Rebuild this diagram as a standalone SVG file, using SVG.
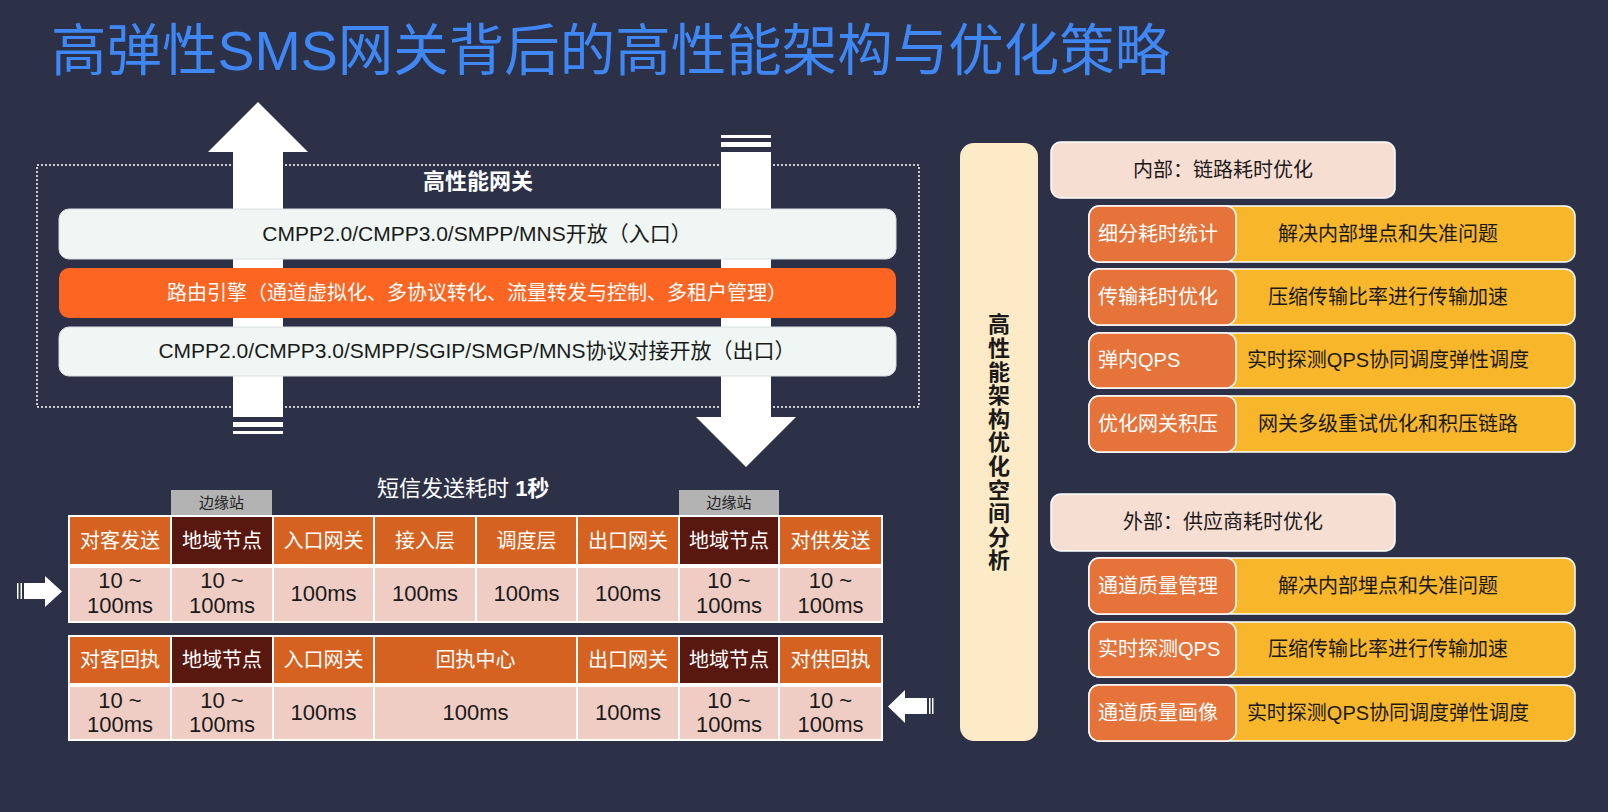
<svg xmlns="http://www.w3.org/2000/svg" width="1608" height="812" viewBox="0 0 1608 812">
<style>
text{font-family:"Liberation Sans","Noto Sans CJK SC",sans-serif;}
.bar{stroke:#d9dde0;stroke-width:1}
.barT{font-size:21px;fill:#1a1a1a;text-anchor:middle}
.hd{stroke:#fff;stroke-width:2}
.hT{font-size:20px;fill:#fff;text-anchor:middle}
.dc{fill:#efcdc4;stroke:#fff;stroke-width:2}
.dT{font-size:22px;fill:#1a1a1a;text-anchor:middle}
.edge{fill:#b3b3b3}
.edgeT{font-size:15px;fill:#222;text-anchor:middle}
.yel{fill:#f8b62b;stroke:#fff;stroke-width:1.5}
.org{fill:#e5733a;stroke:#fff;stroke-width:1.5}
.lT{font-size:20px;fill:#fff}
.rT{font-size:20px;fill:#1a1a1a;text-anchor:middle}
.sec{fill:#f7ded2;stroke:#fff;stroke-width:1.5}
.secT{font-size:20px;fill:#1a1a1a;text-anchor:middle}
.wa{fill:#fff}
</style>
<rect width="1608" height="812" fill="#2c3147"/>
<text x="51" y="70" font-size="55.5" fill="#3e87f5">高弹性SMS网关背后的高性能架构与优化策略</text>

<g id="connectors">
  <polygon class="wa" points="258,102 308,152 283,152 283,417 233,417 233,152 208,152"/>
  <rect class="wa" x="233" y="422" width="50" height="5"/>
  <rect class="wa" x="233" y="431" width="50" height="3"/>
  <rect class="wa" x="721" y="135" width="50" height="3"/>
  <rect class="wa" x="721" y="142" width="50" height="5"/>
  <polygon class="wa" points="721,152 771,152 771,417 796,417 746,467 696,417 721,417"/>
  <polygon class="wa" points="24,583 45,583 45,576 62,591.5 45,607 45,599 24,599"/>
  <rect class="wa" x="17" y="583" width="1.5" height="16"/>
  <rect class="wa" x="20.5" y="583" width="1.5" height="16"/>
  <polygon class="wa" points="888,706.5 905,690 905,698 927,698 927,714 905,714 905,723"/>
  <rect class="wa" x="929" y="698" width="1.5" height="16"/>
  <rect class="wa" x="932" y="698" width="1.5" height="16"/>
</g>

<g id="gateway">
  <rect x="37" y="165" width="882" height="242" fill="none" stroke="#fff" stroke-width="1.5" stroke-dasharray="2 2"/>
  <text x="478" y="189" font-size="22" font-weight="bold" fill="#fff" text-anchor="middle">高性能网关</text>
</g>
<g id="bar-in">
  <rect class="bar" x="59" y="209" width="837" height="50" rx="10" fill="#eff6f3"/>
  <text class="barT" x="477" y="241">CMPP2.0/CMPP3.0/SMPP/MNS开放（入口）</text>
</g>
<g id="bar-route">
  <rect x="59" y="268" width="837" height="50" rx="10" fill="#fc6522"/>
  <text class="barT" x="477" y="300" style="fill:#fff;font-size:20px">路由引擎（通道虚拟化、多协议转化、流量转发与控制、多租户管理）</text>
</g>
<g id="bar-out">
  <rect class="bar" x="59" y="327" width="837" height="49" rx="10" fill="#eff6f3"/>
  <text class="barT" x="477" y="358">CMPP2.0/CMPP3.0/SMPP/SGIP/SMGP/MNS协议对接开放（出口）</text>
</g>

<g id="table-title">
  <text x="377" y="496" font-size="22" fill="#fff">短信发送耗时 <tspan font-weight="bold">1秒</tspan></text>
</g>

<g id="edge1"><rect class="edge" x="171" y="490" width="101" height="25"/><text class="edgeT" x="221.5" y="508">边缘站</text></g>
<g id="edge2"><rect class="edge" x="679" y="490" width="100" height="25"/><text class="edgeT" x="729" y="508">边缘站</text></g>

<g id="table-send">
  <rect class="hd" x="69" y="516" width="102" height="49" fill="#d66221"/>
  <rect class="hd" x="171" y="516" width="102" height="49" fill="#58180f"/>
  <rect class="hd" x="273" y="516" width="101" height="49" fill="#d66221"/>
  <rect class="hd" x="374" y="516" width="102" height="49" fill="#d66221"/>
  <rect class="hd" x="476" y="516" width="101" height="49" fill="#d66221"/>
  <rect class="hd" x="577" y="516" width="102" height="49" fill="#d66221"/>
  <rect class="hd" x="679" y="516" width="100" height="49" fill="#58180f"/>
  <rect class="hd" x="779" y="516" width="103" height="49" fill="#d66221"/>
  <text class="hT" x="120" y="548">对客发送</text>
  <text class="hT" x="222" y="548">地域节点</text>
  <text class="hT" x="323.5" y="548">入口网关</text>
  <text class="hT" x="425" y="548">接入层</text>
  <text class="hT" x="526.5" y="548">调度层</text>
  <text class="hT" x="628" y="548">出口网关</text>
  <text class="hT" x="729" y="548">地域节点</text>
  <text class="hT" x="830.5" y="548">对供发送</text>
  <rect class="dc" x="69" y="567" width="102" height="55"/>
  <rect class="dc" x="171" y="567" width="102" height="55"/>
  <rect class="dc" x="273" y="567" width="101" height="55"/>
  <rect class="dc" x="374" y="567" width="102" height="55"/>
  <rect class="dc" x="476" y="567" width="101" height="55"/>
  <rect class="dc" x="577" y="567" width="102" height="55"/>
  <rect class="dc" x="679" y="567" width="100" height="55"/>
  <rect class="dc" x="779" y="567" width="103" height="55"/>
  <text class="dT" x="120" y="588">10 ~</text><text class="dT" x="120" y="613">100ms</text>
  <text class="dT" x="222" y="588">10 ~</text><text class="dT" x="222" y="613">100ms</text>
  <text class="dT" x="323.5" y="601">100ms</text>
  <text class="dT" x="425" y="601">100ms</text>
  <text class="dT" x="526.5" y="601">100ms</text>
  <text class="dT" x="628" y="601">100ms</text>
  <text class="dT" x="729" y="588">10 ~</text><text class="dT" x="729" y="613">100ms</text>
  <text class="dT" x="830.5" y="588">10 ~</text><text class="dT" x="830.5" y="613">100ms</text>
</g>

<g id="table-receipt">
  <rect class="hd" x="69" y="636" width="102" height="48" fill="#d66221"/>
  <rect class="hd" x="171" y="636" width="102" height="48" fill="#58180f"/>
  <rect class="hd" x="273" y="636" width="101" height="48" fill="#d66221"/>
  <rect class="hd" x="374" y="636" width="203" height="48" fill="#d66221"/>
  <rect class="hd" x="577" y="636" width="102" height="48" fill="#d66221"/>
  <rect class="hd" x="679" y="636" width="100" height="48" fill="#58180f"/>
  <rect class="hd" x="779" y="636" width="103" height="48" fill="#d66221"/>
  <text class="hT" x="120" y="667">对客回执</text>
  <text class="hT" x="222" y="667">地域节点</text>
  <text class="hT" x="323.5" y="667">入口网关</text>
  <text class="hT" x="475.5" y="667">回执中心</text>
  <text class="hT" x="628" y="667">出口网关</text>
  <text class="hT" x="729" y="667">地域节点</text>
  <text class="hT" x="830.5" y="667">对供回执</text>
  <rect class="dc" x="69" y="686" width="102" height="54"/>
  <rect class="dc" x="171" y="686" width="102" height="54"/>
  <rect class="dc" x="273" y="686" width="101" height="54"/>
  <rect class="dc" x="374" y="686" width="203" height="54"/>
  <rect class="dc" x="577" y="686" width="102" height="54"/>
  <rect class="dc" x="679" y="686" width="100" height="54"/>
  <rect class="dc" x="779" y="686" width="103" height="54"/>
  <text class="dT" x="120" y="708">10 ~</text><text class="dT" x="120" y="732">100ms</text>
  <text class="dT" x="222" y="708">10 ~</text><text class="dT" x="222" y="732">100ms</text>
  <text class="dT" x="323.5" y="720">100ms</text>
  <text class="dT" x="475.5" y="720">100ms</text>
  <text class="dT" x="628" y="720">100ms</text>
  <text class="dT" x="729" y="708">10 ~</text><text class="dT" x="729" y="732">100ms</text>
  <text class="dT" x="830.5" y="708">10 ~</text><text class="dT" x="830.5" y="732">100ms</text>
</g>

<g id="analysis">
  <rect x="960" y="143" width="78" height="598" rx="14" fill="#fcebc6"/>
  <text x="999" y="313" font-size="22" font-weight="bold" fill="#1a1a1a" style="writing-mode:vertical-rl;text-orientation:upright;letter-spacing:1.6px;font-family:'Noto Sans CJK SC',sans-serif">高性能架构优化空间分析</text>
</g>

<g id="internal">
  <rect class="sec" x="1051" y="142" width="344" height="56" rx="10"/>
  <text class="secT" x="1223" y="177">内部：链路耗时优化</text>
</g>
<g id="row-i1"><rect class="yel" x="1089" y="206" width="486" height="56" rx="10"/><rect class="org" x="1089" y="206" width="147" height="56" rx="10"/><text class="lT" x="1098" y="241">细分耗时统计</text><text class="rT" x="1388" y="241">解决内部埋点和失准问题</text></g>
<g id="row-i2"><rect class="yel" x="1089" y="269" width="486" height="56" rx="10"/><rect class="org" x="1089" y="269" width="147" height="56" rx="10"/><text class="lT" x="1098" y="304">传输耗时优化</text><text class="rT" x="1388" y="304">压缩传输比率进行传输加速</text></g>
<g id="row-i3"><rect class="yel" x="1089" y="333" width="486" height="55" rx="10"/><rect class="org" x="1089" y="333" width="147" height="55" rx="10"/><text class="lT" x="1098" y="367">弹内QPS</text><text class="rT" x="1388" y="367">实时探测QPS协同调度弹性调度</text></g>
<g id="row-i4"><rect class="yel" x="1089" y="396" width="486" height="56" rx="10"/><rect class="org" x="1089" y="396" width="147" height="56" rx="10"/><text class="lT" x="1098" y="431">优化网关积压</text><text class="rT" x="1388" y="431">网关多级重试优化和积压链路</text></g>

<g id="external">
  <rect class="sec" x="1051" y="494" width="344" height="57" rx="10"/>
  <text class="secT" x="1223" y="529">外部：供应商耗时优化</text>
</g>
<g id="row-e1"><rect class="yel" x="1089" y="558" width="486" height="56" rx="10"/><rect class="org" x="1089" y="558" width="147" height="56" rx="10"/><text class="lT" x="1098" y="593">通道质量管理</text><text class="rT" x="1388" y="593">解决内部埋点和失准问题</text></g>
<g id="row-e2"><rect class="yel" x="1089" y="622" width="486" height="55" rx="10"/><rect class="org" x="1089" y="622" width="147" height="55" rx="10"/><text class="lT" x="1098" y="656">实时探测QPS</text><text class="rT" x="1388" y="656">压缩传输比率进行传输加速</text></g>
<g id="row-e3"><rect class="yel" x="1089" y="685" width="486" height="56" rx="10"/><rect class="org" x="1089" y="685" width="147" height="56" rx="10"/><text class="lT" x="1098" y="720">通道质量画像</text><text class="rT" x="1388" y="720">实时探测QPS协同调度弹性调度</text></g>
</svg>
